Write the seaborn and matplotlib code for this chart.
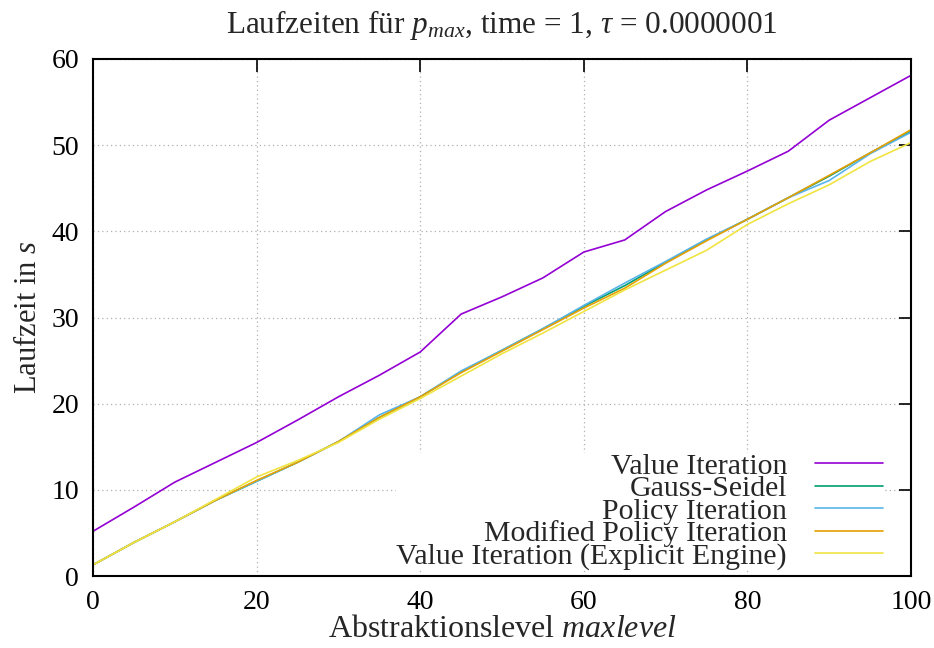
import numpy as np
import pandas as pd
import matplotlib
matplotlib.use('Agg')
import matplotlib.pyplot as plt
import seaborn as sns

# abstraction levels and runtimes (s)
levels = [0, 5, 10, 15, 20, 25, 30, 35, 40, 45, 50, 55, 60, 65, 70, 75, 80, 85, 90, 95, 100]
value_iter = [5.2, 8.0, 10.9, 13.2, 15.5, 18.1, 20.8, 23.3, 26.0, 30.4, 32.4, 34.6, 37.6, 39.0, 42.3, 44.8, 47.0, 49.3, 52.9, 55.5, 58.1]
gauss_seidel = [1.3, 3.9, 6.3, 8.8, 11.0, 13.2, 15.6, 18.4, 20.8, 23.7, 26.2, 28.7, 31.3, 33.7, 36.4, 39.0, 41.4, 43.9, 46.4, 49.1, 51.6]
policy_iter = [1.3, 3.9, 6.3, 8.8, 11.0, 13.2, 15.6, 18.7, 20.8, 23.8, 26.2, 28.7, 31.4, 34.0, 36.5, 39.1, 41.4, 43.9, 45.9, 49.0, 51.5]
mod_policy_iter = [1.3, 3.9, 6.3, 8.8, 11.1, 13.2, 15.6, 18.4, 20.8, 23.6, 26.1, 28.6, 31.1, 33.4, 36.3, 38.9, 41.4, 43.9, 46.5, 49.1, 51.8]
explicit_vi = [1.3, 3.9, 6.3, 8.9, 11.5, 13.4, 15.5, 18.2, 20.6, 23.2, 25.8, 28.2, 30.7, 33.2, 35.5, 37.8, 40.8, 43.2, 45.4, 48.1, 50.3]

names = ['Value Iteration', 'Gauss-Seidel', 'Policy Iteration',
         'Modified Policy Iteration', 'Value Iteration (Explicit Engine)']
series = [value_iter, gauss_seidel, policy_iter, mod_policy_iter, explicit_vi]
colors = ['#9400d3', '#009e73', '#56b4e9', '#e69f00', '#f0e442']

rows = []
for name, vals in zip(names, series):
    for lv, v in zip(levels, vals):
        rows.append({'level': lv, 'time': v, 'method': name})
df = pd.DataFrame(rows)

sns.set_style('white')
plt.rcParams['font.family'] = ['Liberation Serif', 'DejaVu Serif']
plt.rcParams['mathtext.fontset'] = 'custom'
plt.rcParams['mathtext.rm'] = 'Liberation Serif'
plt.rcParams['mathtext.it'] = 'Liberation Serif:italic'

fig = plt.figure(figsize=(9.34, 6.48), dpi=100)
ax = fig.add_axes([0.0996, 0.111, 0.8758, 0.798])

sns.lineplot(data=df, x='level', y='time', hue='method', hue_order=names,
             palette=colors, linewidth=1.2, ax=ax)

ax.set_xlim(0, 100)
ax.set_ylim(0, 60)
ax.set_xticks(range(0, 101, 20))
ax.set_yticks(range(0, 61, 10))
ax.grid(True, linestyle=(0, (1, 2.5)), color='#b0b0b0', linewidth=0.9)
ax.tick_params(direction='in', length=9, width=1.2, top=True, right=True,
               labelsize=20, pad=10, colors='black')
for s in ax.spines.values():
    s.set_color('black')
    s.set_linewidth(1.5)

ax.set_title(r'Laufzeiten für $p_{max}$, time = 1, $\tau$ = 0.0000001', fontsize=22.5, pad=19)
ax.set_xlabel(r'Abstraktionslevel $maxlevel$', fontsize=23, labelpad=0)
ax.set_ylabel(r'Laufzeit in $s$', fontsize=22, labelpad=6)

# legend: text right-aligned, samples on the right, opaque box hiding the grid
leg = ax.legend(loc='lower right', bbox_to_anchor=(0.966, 0.012),
                markerfirst=False, fontsize=21.5, frameon=True,
                framealpha=1, facecolor='white', edgecolor='none',
                labelspacing=-0.15, handlelength=2.3, handletextpad=0.92,
                borderpad=0.0, borderaxespad=0.0, fancybox=False)
for h in leg.get_lines():
    h.set_linewidth(1.2)

fig.savefig('out.png', dpi=100)
